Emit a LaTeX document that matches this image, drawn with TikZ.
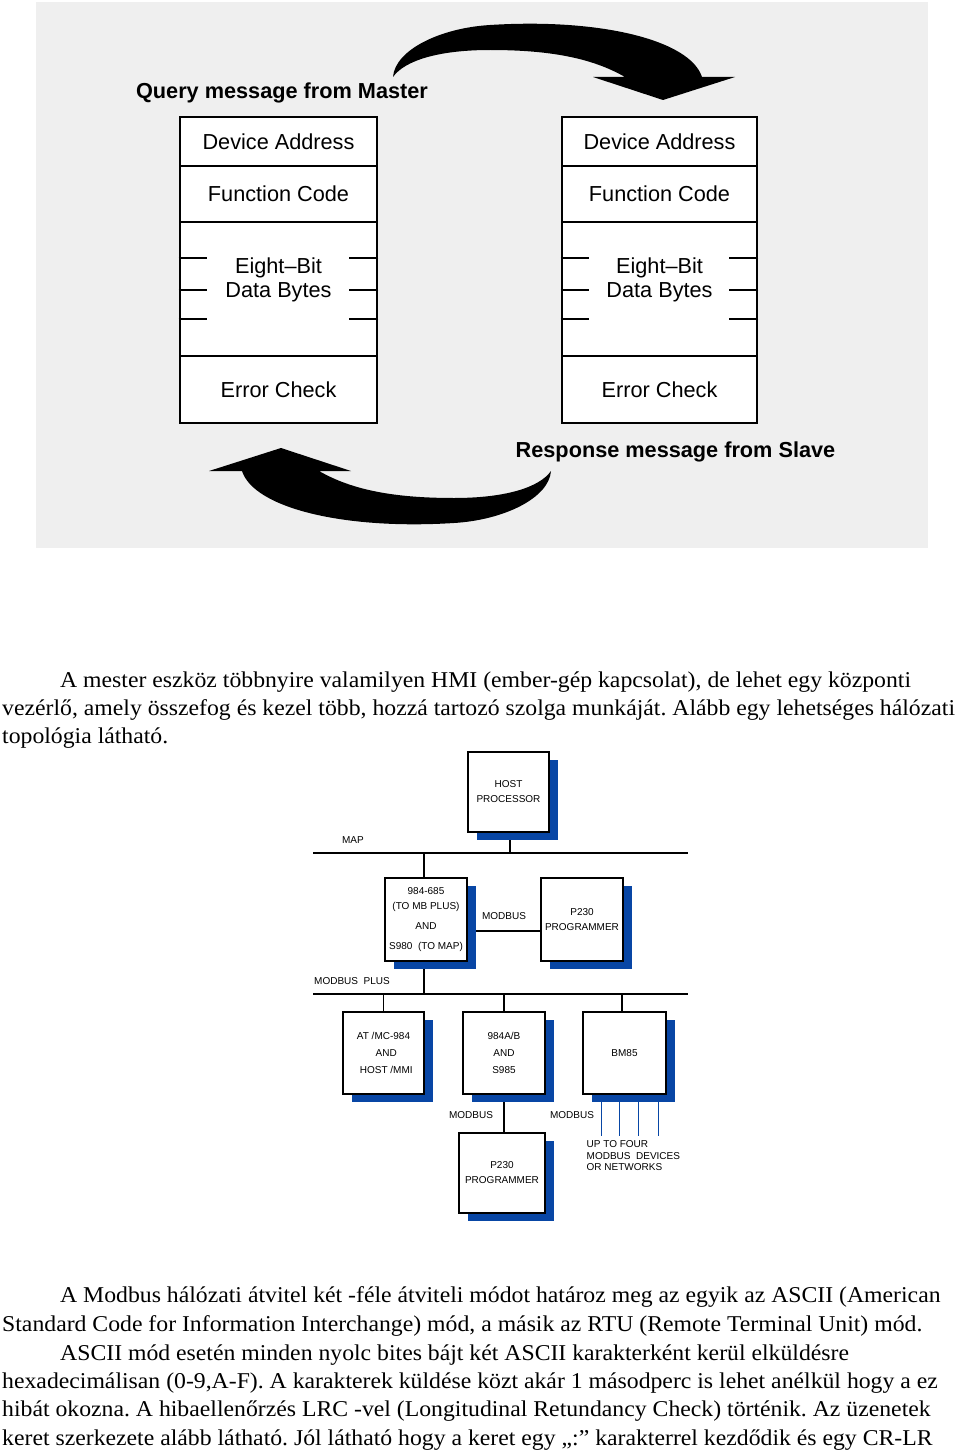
\documentclass[tikz,border=0pt]{standalone}
\usepackage{fontspec}
\usetikzlibrary{shadows}
\newfontfamily\sansf{Liberation Sans}
\newfontfamily\bodyf[FakeStretch=1.05]{Liberation Serif}
\definecolor{bgray}{RGB}{239,239,239}
\definecolor{mblue}{RGB}{8,70,165}
\pgfdeclarelayer{bglayer}
\pgfsetlayers{bglayer,main}
\frenchspacing
\begin{document}
\begin{tikzpicture}[x=1pt,y=-1pt,
  field/.style={draw, line width=2.8pt, fill=white, inner sep=0pt, font=\sansf\fontsize{21.7}{24}\selectfont},
  lfield/.style={field, minimum width=197pt},
  rfield/.style={field, minimum width=195pt},
  tickline/.style={line width=2.8pt},
  ftext/.style={inner sep=0pt, align=center, font=\sansf\fontsize{21.7}{24}\selectfont},
  title/.style={inner sep=0pt, font=\sansf\bfseries\fontsize{21.7}{24}\selectfont},
  bigarrow/.style={fill=black},
  netbox/.style={draw, line width=1.2pt, fill=white, inner sep=0pt, align=center,
    font=\sansf\fontsize{10}{15}\selectfont,
    drop shadow={shadow xshift=9pt, shadow yshift=-8pt, fill=mblue, opacity=1}},
  bus/.style={line width=1.1pt},
  blueline/.style={mblue, line width=1pt},
  netlabel/.style={inner sep=0pt, font=\sansf\fontsize{10}{11.5}\selectfont},
  body/.style={inner sep=0pt, anchor=base west, font=\bodyf\fontsize{22.6}{28}\selectfont\frenchspacing}]
\useasboundingbox (0,0) rectangle (960,1453);
\begin{pgfonlayer}{bglayer}
\fill[bgray] (36,2) rectangle (928,548);
\end{pgfonlayer}

% ---------- top figure: query / response frames ----------
\node[title] (qtitle) at (282,93) {Query message from Master};
\node[title] (rtitle) at (675.5,452) {Response message from Slave};

\node[lfield, minimum height=49pt] (qda) at (278.5,141.5) {Device Address};
\node[lfield, minimum height=56pt] (qfc) at (278.5,194) {Function Code};
\node[lfield, minimum height=134pt] (qdb) at (278.5,289) {};
\node[lfield, minimum height=67pt] (qec) at (278.5,389.5) {Error Check};
\node[ftext] (qdbt) at ([yshift=9pt]qdb.center) {Eight–Bit\\Data Bytes};
\foreach \s in {31pt,-1pt,-30pt}{
  \draw[tickline] ([yshift=\s]qdb.west) -- ++(28,0);
  \draw[tickline] ([yshift=\s]qdb.east) -- ++(-29,0);
}

\node[rfield, minimum height=49pt] (rda) at (659.5,141.5) {Device Address};
\node[rfield, minimum height=56pt] (rfc) at (659.5,194) {Function Code};
\node[rfield, minimum height=134pt] (rdb) at (659.5,289) {};
\node[rfield, minimum height=67pt] (rec) at (659.5,389.5) {Error Check};
\node[ftext] (rdbt) at ([yshift=9pt]rdb.center) {Eight–Bit\\Data Bytes};
\foreach \s in {31pt,-1pt,-30pt}{
  \draw[tickline] ([yshift=\s]rdb.west) -- ++(28,0);
  \draw[tickline] ([yshift=\s]rdb.east) -- ++(-29,0);
}

% curved arrows
\def\arrowpath{(393,77) .. controls (395,50) and (440,28) .. (490,25)
  .. controls (600,18) and (690,40) .. (702,77) -- (735,77) -- (663,100) -- (593,77) -- (625,77)
  .. controls (592,58) and (550,50) .. (490,50) .. controls (440,50) and (405,60) .. (393,77) -- cycle}
\fill[bigarrow] \arrowpath;
\fill[bigarrow, rotate around={180:(472,274)}] \arrowpath;

% ---------- paragraph 1 ----------
\node[body] (p1a) at (60,687) {A mester eszköz többnyire valamilyen HMI (ember-gép kapcsolat), de lehet egy központi};
\node[body] (p1b) at (2,715) {vezérlő, amely összefog és kezel több, hozzá tartozó szolga munkáját. Alább egy lehetséges hálózati};
\node[body] (p1c) at (2,743) {topológia látható.};

% ---------- network diagram ----------
\coordinate (mapL) at (313,853);
\coordinate (mapR) at (688,853);
\coordinate (mbpL) at (313,994);
\coordinate (mbpR) at (688,994);

\node[netbox, minimum width=81pt, minimum height=80pt] (host) at (508.5,792) {HOST\\PROCESSOR};
\node[netbox, minimum width=82pt, minimum height=83pt] (plc) at (426,919.5)
  {984-685\\(TO MB PLUS)\\[5pt]AND\\[5pt]S980\ \ (TO MAP)};
\node[netbox, minimum width=82pt, minimum height=83pt] (prg1) at (582,919.5) {P230\\PROGRAMMER};
\node[netbox, minimum width=81pt, minimum height=82pt] (atmc) at (383.5,1053)
  {AT /MC-984\\[2pt]\ \ AND\\[2pt]\ \ HOST /MMI};
\node[netbox, minimum width=82pt, minimum height=82pt] (ab) at (504,1053) {984A/B\\[2pt]AND\\[2pt]S985};
\node[netbox, minimum width=83pt, minimum height=82pt] (bm) at (624.5,1053) {BM85};
\node[netbox, minimum width=86pt, minimum height=80pt] (prg2) at (502,1173) {P230\\PROGRAMMER};

\begin{pgfonlayer}{bglayer}
\draw[bus] (mapL) -- (mapR);
\draw[bus] (mbpL) -- (mbpR);
\draw[bus] ([xshift=1.5pt]host.south) -- ([xshift=1.5pt]host.south |- mapL);
\draw[bus] ([xshift=-2pt]plc.north) -- ([xshift=-2pt]plc.north |- mapL);
\draw[bus] ([xshift=-2pt]plc.south) -- ([xshift=-2pt]plc.south |- mbpL);
\draw[bus] ([yshift=-11.5pt]plc.east) -- ([yshift=-11.5pt]prg1.west);
\draw[bus] (atmc.north) -- (atmc.north |- mbpL);
\draw[bus] (ab.north) -- (ab.north |- mbpL);
\draw[bus] ([xshift=-2.5pt]bm.north) -- ([xshift=-2.5pt]bm.north |- mbpL);
\draw[bus] (ab.south) -- (ab.south |- prg2.north);
\foreach \dx in {-23.5pt,-5.5pt,13.5pt,33.5pt}
  \draw[blueline] ([xshift=\dx]bm.south) -- ++(0,41);
\end{pgfonlayer}

\node[netlabel] (lmap) at (353,840) {MAP};
\node[netlabel] (lmb1) at (504,916) {MODBUS};
\node[netlabel] (lmbp) at (352,981) {MODBUS\ \ PLUS};
\node[netlabel] (lmb2) at (471,1115) {MODBUS};
\node[netlabel] (lmb3) at (572,1115) {MODBUS};
\node[netlabel, anchor=west, align=left] (lup) at (586.5,1156) {UP TO FOUR\\MODBUS\ \ DEVICES\\OR NETWORKS};

% ---------- paragraph 2 ----------
\node[body] (p2a) at (60,1302) {A Modbus hálózati átvitel két -féle átviteli módot határoz meg az egyik az ASCII (American};
\node[body] (p2b) at (2,1331) {Standard Code for Information Interchange) mód, a másik az RTU (Remote Terminal Unit) mód.};
\node[body] (p2c) at (60,1360) {ASCII mód esetén minden nyolc bites bájt két ASCII karakterként kerül elküldésre};
\node[body] (p2d) at (2,1388) {hexadecimálisan (0-9,A-F). A karakterek küldése közt akár 1 másodperc is lehet anélkül hogy a ez};
\node[body] (p2e) at (2,1416) {hibát okozna. A hibaellenőrzés LRC -vel (Longitudinal Retundancy Check) történik. Az üzenetek};
\node[body] (p2f) at (2,1445) {keret szerkezete alább látható. Jól látható hogy a keret egy „:” karakterrel kezdődik és egy CR-LR};
\end{tikzpicture}
\end{document}
